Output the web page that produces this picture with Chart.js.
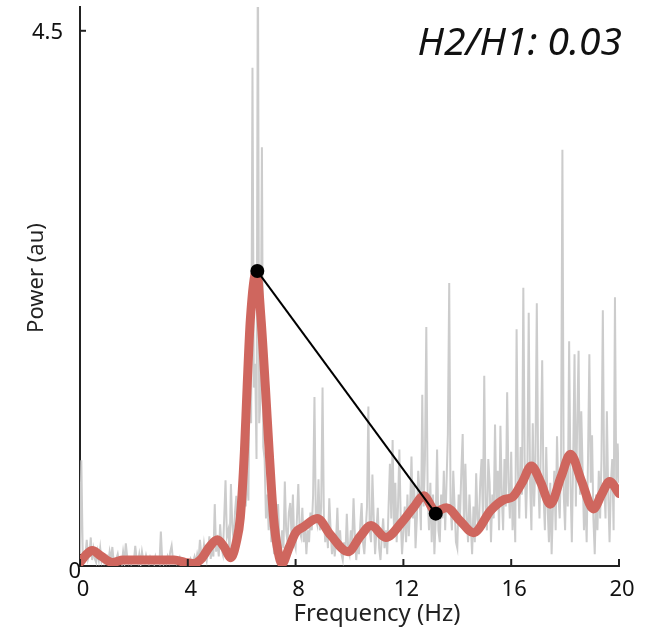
<!DOCTYPE html>
<html>
<head>
<meta charset="utf-8">
<script src="https://cdn.jsdelivr.net/npm/chart.js@4/dist/chart.umd.min.js"></script>
<style>
  html, body { margin: 0; padding: 0; background: #ffffff; }
  #wrap { width: 668px; height: 632px; position: relative; }
</style>
</head>
<body>
<div id="wrap"><canvas id="c" width="668" height="632"></canvas></div>
<script>
// ---- Data ----
// Raw spectrum: frequency bins every 0.05 Hz from 0 to 20 Hz (one row = 1 Hz)
const rawStep = 0.05;
const rawPower = [
  0.10,0.89,0.12,0.05,0.08,0.22,0.06,0.10,0.24,0.05, 0.14,0.06,0.03,0.12,0.05,0.15,0.04,0.08,0.03,0.06,
  0.08,0.03,0.12,0.05,0.16,0.04,0.02,0.06,0.10,0.03, 0.05,0.02,0.12,0.04,0.19,0.08,0.03,0.06,0.02,0.05,
  0.04,0.17,0.06,0.03,0.10,0.02,0.12,0.05,0.03,0.09, 0.04,0.02,0.07,0.03,0.05,0.02,0.08,0.04,0.06,0.03,
  0.29,0.05,0.02,0.06,0.03,0.08,0.04,0.12,0.17,0.05, 0.03,0.06,0.02,0.04,0.07,0.02,0.03,0.05,0.02,0.04,
  0.02,0.03,0.06,0.02,0.04,0.08,0.03,0.10,0.05,0.22, 0.10,0.06,0.18,0.08,0.04,0.12,0.25,0.06,0.15,0.08,
  0.52,0.12,0.20,0.08,0.35,0.15,0.10,0.40,0.72,0.25, 0.30,0.10,0.69,0.35,0.20,0.45,0.59,0.25,0.40,0.70,
  0.40,0.70,0.98,0.50,0.80,0.55,1.90,1.20,4.19,1.50, 1.70,0.90,5.30,1.20,1.40,3.52,1.00,0.90,0.40,0.60,
  0.30,0.55,0.20,0.35,0.10,0.25,0.15,0.52,0.20,0.10, 0.30,0.15,0.71,0.30,0.20,0.45,0.53,0.25,0.60,0.20,
  0.15,0.40,0.69,0.30,0.25,0.49,0.20,0.35,0.10,0.30, 0.20,0.45,0.30,0.60,1.42,0.40,0.35,0.73,0.30,0.50,
  1.50,0.40,0.20,0.35,0.15,0.57,0.30,0.10,0.25,0.08, 0.20,0.49,0.15,0.30,0.10,0.05,0.20,0.10,0.44,0.15,
  0.10,0.30,0.20,0.57,0.25,0.05,0.20,0.10,0.35,0.53, 0.20,0.10,0.30,0.50,1.34,0.30,0.20,0.77,0.40,0.10,
  0.30,0.49,0.15,0.05,0.25,0.40,0.15,0.30,0.10,0.50, 0.86,0.40,1.06,0.30,0.70,0.20,0.50,0.98,0.40,0.10,
  0.30,0.50,0.20,0.60,0.25,0.50,0.92,0.40,0.70,0.15, 0.40,0.80,0.60,0.30,1.44,0.50,0.90,2.01,0.60,0.30,
  0.70,0.20,0.60,0.10,0.40,0.98,0.30,0.20,0.60,0.40, 0.80,0.30,0.70,1.11,2.38,0.50,0.30,0.80,0.50,0.20,
  0.15,0.60,0.40,0.80,1.11,0.30,0.86,0.40,0.20,0.60, 0.35,0.10,0.50,0.20,0.78,0.40,0.30,0.70,0.90,0.40,
  1.60,0.50,0.30,0.90,0.70,0.20,0.60,0.40,1.19,0.50, 0.80,0.30,1.18,0.60,0.30,0.90,0.50,1.46,0.70,0.40,
  0.96,0.30,0.60,0.20,1.99,0.80,0.40,1.00,0.60,2.34, 0.90,0.40,0.80,2.13,0.70,0.30,1.20,0.50,0.90,2.21,
  0.80,0.40,1.00,1.73,0.60,0.30,1.00,0.50,0.20,0.70, 0.10,0.50,0.80,0.30,1.09,0.60,0.40,0.90,3.50,0.60,
  0.30,0.90,0.50,1.89,0.70,0.20,0.90,1.78,0.50,1.20, 1.81,0.60,1.30,0.80,0.30,0.60,0.20,0.90,1.78,0.70,
  1.10,0.40,0.10,0.60,0.30,0.80,0.40,0.90,2.15,0.70, 0.40,1.30,0.60,0.20,0.70,0.90,0.30,2.26,0.60,1.03,
  0.70
];

// Smoothed spectrum
const smoothFreq  = [0.0, 0.25, 0.45, 0.8, 1.2, 1.6, 2.5, 3.5, 3.9, 4.2, 4.5, 4.8, 5.1, 5.35, 5.6, 5.8, 5.95, 6.1, 6.2, 6.32, 6.55, 6.72, 6.88, 7.02, 7.18, 7.35, 7.5, 7.75, 8.0, 8.3, 8.8, 9.3, 9.95, 10.4, 10.8, 11.35, 11.95, 12.4, 12.75, 13.2, 13.6, 14.1, 14.6, 15.25, 15.75, 16.05, 16.4, 16.75, 17.1, 17.45, 17.85, 18.2, 18.6, 19.05, 19.35, 19.65, 20.0];
const smoothPower = [0.03, 0.10, 0.13, 0.08, 0.03, 0.05, 0.05, 0.05, 0.03, 0.02, 0.06, 0.16, 0.22, 0.16, 0.07, 0.20, 0.41, 0.96, 1.50, 2.07, 2.48, 2.07, 1.50, 0.96, 0.41, 0.12, 0.02, 0.15, 0.28, 0.33, 0.40, 0.26, 0.12, 0.25, 0.34, 0.24, 0.37, 0.50, 0.59, 0.46, 0.49, 0.38, 0.28, 0.47, 0.56, 0.58, 0.70, 0.84, 0.70, 0.52, 0.75, 0.94, 0.72, 0.48, 0.60, 0.71, 0.61];

// Harmonic markers (H1, H2)
const harmFreq  = [6.58, 13.2];
const harmPower = [2.48, 0.44];

const ratioLabel = 'H2/H1: 0.03';
const xTitle = 'Frequency (Hz)';
const yTitle = 'Power (au)';
const xTicks = [0, 4, 8, 12, 16, 20];
const yTicks = [0, 4.5];
const yLabels = ['0', '4.5'];

// ---- Build datasets ----
const rawData = rawPower.map((v, i) => ({ x: +(i * rawStep).toFixed(2), y: v }));
const smoothData = smoothFreq.map((f, i) => ({ x: f, y: smoothPower[i] }));
const harmData = harmFreq.map((f, i) => ({ x: f, y: harmPower[i] }));

const FONT = '"Noto Sans", "DejaVu Sans", sans-serif';

const decorPlugin = {
  id: 'decor',
  afterDraw(chart) {
    const ctx = chart.ctx;
    const xs = chart.scales.x, ys = chart.scales.y;
    const ca = chart.chartArea;
    ctx.save();
    ctx.strokeStyle = '#222';
    ctx.lineWidth = 2;
    xTicks.forEach(t => {
      const px = xs.getPixelForValue(t);
      ctx.beginPath();
      ctx.moveTo(px, ca.bottom);
      ctx.lineTo(px, ca.bottom - 7);
      ctx.stroke();
    });
    const py45 = ys.getPixelForValue(yTicks[1]);
    ctx.beginPath();
    ctx.moveTo(ca.left, py45);
    ctx.lineTo(ca.left + 6, py45);
    ctx.stroke();
    ctx.fillStyle = '#111';
    ctx.font = '22px ' + FONT;
    ctx.textAlign = 'right';
    ctx.textBaseline = 'middle';
    ctx.fillText(yLabels[1], ca.left - 17, py45 + 2);
    ctx.fillText(yLabels[0], ca.left + 1, ys.getPixelForValue(yTicks[0]) + 6);
    // axis titles
    ctx.fillStyle = '#222';
    ctx.font = '24px ' + FONT;
    ctx.textAlign = 'center';
    ctx.textBaseline = 'middle';
    ctx.fillText(xTitle, 377, 614);
    ctx.save();
    ctx.translate(37, 278);
    ctx.rotate(-Math.PI / 2);
    ctx.font = '22px ' + FONT;
    ctx.fillText(yTitle, 0, 0);
    ctx.restore();
    // ratio annotation
    ctx.fillStyle = '#111';
    ctx.font = 'italic 39px ' + FONT;
    ctx.textAlign = 'right';
    ctx.textBaseline = 'alphabetic';
    ctx.fillText(ratioLabel, 622, 55);
    ctx.restore();
  }
};

new Chart(document.getElementById('c'), {
  type: 'line',
  data: {
    datasets: [
      {
        label: 'H1-H2',
        data: harmData,
        borderColor: '#000000',
        backgroundColor: '#000000',
        borderWidth: 2,
        pointRadius: 7,
        pointHoverRadius: 7,
        pointBorderWidth: 0,
        tension: 0,
        order: 0
      },
      {
        label: 'smoothed',
        data: smoothData,
        borderColor: '#cf665e',
        borderWidth: 9,
        pointRadius: 0,
        cubicInterpolationMode: 'monotone',
        borderCapStyle: 'round',
        borderJoinStyle: 'round',
        order: 1
      },
      {
        label: 'raw',
        data: rawData,
        borderColor: '#cccccc',
        borderWidth: 2,
        pointRadius: 0,
        tension: 0,
        order: 2
      }
    ]
  },
  options: {
    responsive: false,
    animation: false,
    events: [],
    layout: { padding: { left: 0, right: 49, top: 0, bottom: 0 } },
    plugins: { legend: { display: false }, tooltip: { enabled: false } },
    scales: {
      x: {
        type: 'linear',
        min: 0, max: 20,
        afterBuildTicks(scale) { scale.ticks = xTicks.map(v => ({ value: v })); },
        afterFit(scale) { scale.height = 66; },
        grid: { display: false, drawTicks: false },
        border: { display: true, color: '#222', width: 2 },
        ticks: { color: '#111', font: { size: 22, family: FONT }, padding: 11, maxRotation: 0, labelOffset: 3 },
        title: { display: false }
      },
      y: {
        type: 'linear',
        min: 0, max: 4.7,
        afterFit(scale) { scale.width = 80; },
        grid: { display: false, drawTicks: false },
        border: { display: true, color: '#222', width: 2 },
        ticks: { display: false },
        title: { display: false }
      }
    }
  },
  plugins: [decorPlugin]
});
</script>
</body>
</html>
